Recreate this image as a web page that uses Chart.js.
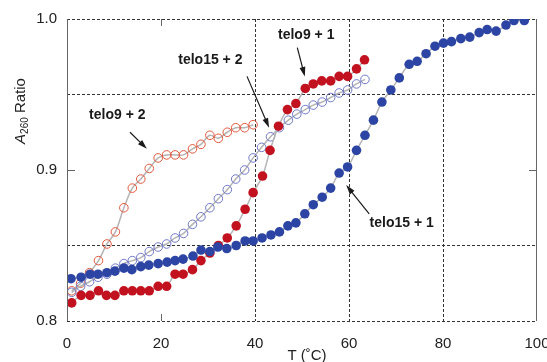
<!DOCTYPE html>
<html>
<head>
<meta charset="utf-8">
<script src="https://cdn.jsdelivr.net/npm/chart.js@4"></script>
<style>
  html, body { margin: 0; padding: 0; background: #fff; }
  #wrap { width: 547px; height: 362px; }
</style>
</head>
<body>
<div id="wrap"><canvas id="meltChart" width="547" height="362"></canvas></div>
<script>
// telo15 + 1 (filled blue)
const tempT15p1 = [0.85, 3, 4.9, 6.6, 8.5, 10.2, 12.1, 13.8, 15.7, 17.4, 19.4, 21.3, 23, 24.7, 26.8, 28.5, 30.4, 32.1, 34, 36,
    37.9, 39.6, 41.5, 43.4, 45.2, 47, 48.7, 50.6, 52.4, 54.3, 56.1, 57.9, 59.7, 61.6, 63.4, 65.2, 67, 68.9, 70.7, 72.8,
    74.5, 76.4, 78.3, 80.1, 81.8, 83.8, 85.7, 87.7, 89.4, 91.3, 93.4, 95.1, 97.3];
const ratioT15p1 = [0.828, 0.829, 0.831, 0.831, 0.832, 0.833, 0.835, 0.834, 0.836, 0.837, 0.838, 0.839, 0.840, 0.841, 0.843, 0.847, 0.846, 0.849, 0.848, 0.850,
    0.853, 0.853, 0.855, 0.857, 0.859, 0.863, 0.865, 0.871, 0.877, 0.882, 0.888, 0.898, 0.902, 0.913, 0.923, 0.933, 0.945, 0.953, 0.961, 0.970,
    0.972, 0.977, 0.982, 0.984, 0.985, 0.987, 0.988, 0.991, 0.993, 0.992, 0.996, 0.999, 0.999];

// telo9 + 1 (filled red)
const tempT9p1 = [1.0, 3, 4.9, 6.7, 8.4, 10.2, 12.1, 13.9, 15.7, 17.5, 19.4, 21.2, 23, 24.7, 26.7, 28.5, 30.4, 32.2, 34.1, 36,
    37.9, 39.6, 41.6, 43.2, 45.0, 46.9, 48.7, 50.7, 52.4, 54.2, 56.1, 57.9, 59.7, 61.6, 63.3];
const ratioT9p1 = [0.812, 0.817, 0.817, 0.820, 0.817, 0.817, 0.820, 0.820, 0.820, 0.820, 0.823, 0.823, 0.831, 0.831, 0.834, 0.840, 0.845, 0.850, 0.855, 0.863,
    0.874, 0.885, 0.896, 0.913, 0.929, 0.940, 0.944, 0.954, 0.957, 0.959, 0.959, 0.962, 0.962, 0.967, 0.973];

// telo15 + 2 (open blue)
const tempT15p2 = [1.0, 2.9, 4.8, 6.6, 8.5, 10.3, 12.1, 13.9, 15.7, 17.5, 19.4, 21.2, 23.0, 24.8, 26.7, 28.5, 30.4, 32.2, 34.1, 35.9,
    37.8, 39.6, 41.4, 43.3, 45.2, 47.1, 48.9, 50.7, 52.4, 54.3, 56.1, 57.9, 59.7, 61.6, 63.4];
const ratioT15p2 = [0.819, 0.823, 0.826, 0.829, 0.831, 0.835, 0.838, 0.840, 0.842, 0.846, 0.849, 0.851, 0.855, 0.858, 0.864, 0.869, 0.875, 0.881, 0.887, 0.894,
    0.900, 0.908, 0.915, 0.922, 0.928, 0.933, 0.937, 0.940, 0.943, 0.945, 0.948, 0.951, 0.953, 0.957, 0.960];

// telo9 + 2 (open orange)
const tempT9p2 = [1.0, 2.9, 4.8, 6.7, 8.5, 10.3, 12.1, 13.9, 15.7, 17.5, 19.4, 21.2, 23.0, 24.8, 26.7, 28.5, 30.4, 32.2, 34.1, 35.9,
    37.8, 39.6];
const ratioT9p2 = [0.820, 0.825, 0.832, 0.840, 0.851, 0.859, 0.875, 0.888, 0.894, 0.901, 0.908, 0.910, 0.910, 0.910, 0.914, 0.917, 0.923, 0.921, 0.925, 0.928,
    0.928, 0.930];

const xTicks = [0, 20, 40, 60, 80, 100];
const yTicks = [0.8, 0.9, 1.0];

// labels with arrows: text position, arrow start, arrow tip (data units)
const labels = [
    { text: 'telo9 + 2', at: [10.7, 0.936], from: [13.4, 0.925], to: [17.0, 0.914] },
    { text: 'telo15 + 2', at: [30.5, 0.973], from: [38.3, 0.962], to: [43.0, 0.928] },
    { text: 'telo9 + 1', at: [50.9, 0.989], from: [49.0, 0.981], to: [50.6, 0.962] },
    { text: 'telo15 + 1', at: [71.2, 0.865], from: [64.3, 0.871], to: [59.4, 0.890] }
];

function toPoints(xs, ys) {
    return xs.map((x, i) => ({ x: x, y: ys[i] }));
}

function series(data, color, filled, radius) {
    return {
        data: data,
        borderColor: '#b4b4b4',
        borderWidth: 1.5,
        tension: 0.35,
        pointRadius: radius,
        pointBackgroundColor: filled ? color : 'rgba(255,255,255,0)',
        pointBorderColor: color,
        pointBorderWidth: filled ? 0 : 1,
        fill: false
    };
}

const framePlugin = {
    id: 'frame',
    afterDraw(chart) {
        const ctx = chart.ctx;
        const xs = chart.scales.x;
        const ys = chart.scales.y;
        const a = chart.chartArea;
        ctx.save();
        // solid side borders
        ctx.strokeStyle = '#666';
        ctx.lineWidth = 1;
        ctx.beginPath();
        ctx.moveTo(a.left + 0.5, a.top);
        ctx.lineTo(a.left + 0.5, a.bottom);
        ctx.moveTo(a.right - 0.5, a.top);
        ctx.lineTo(a.right - 0.5, a.bottom);
        // inner ticks
        const px20 = Math.round(xs.getPixelForValue(20)) + 0.5;
        ctx.moveTo(px20, a.bottom);
        ctx.lineTo(px20, a.bottom - 7);
        ctx.moveTo(px20, a.top);
        ctx.lineTo(px20, a.top + 7);
        const py9 = Math.round(ys.getPixelForValue(0.9)) + 0.5;
        ctx.moveTo(a.left, py9);
        ctx.lineTo(a.left + 8, py9);
        ctx.moveTo(a.right, py9);
        ctx.lineTo(a.right - 8, py9);
        ctx.stroke();

        // axis titles
        ctx.fillStyle = '#222';
        ctx.font = '15px "Liberation Sans", Arial, sans-serif';
        ctx.textAlign = 'center';
        ctx.textBaseline = 'middle';
        ctx.fillText('T (\u02daC)', (a.left + a.right) / 2 + 5, 356);

        ctx.translate(21, 111);
        ctx.rotate(-Math.PI / 2);
        ctx.textAlign = 'left';
        ctx.font = 'italic 15px "Liberation Sans", Arial, sans-serif';
        const wA = ctx.measureText('A').width;
        ctx.font = '10px "Liberation Sans", Arial, sans-serif';
        const wSub = ctx.measureText('260').width;
        ctx.font = '15px "Liberation Sans", Arial, sans-serif';
        const wR = ctx.measureText(' Ratio').width;
        let cx = -(wA + wSub + wR) / 2;
        ctx.font = 'italic 15px "Liberation Sans", Arial, sans-serif';
        ctx.fillText('A', cx, 0);
        cx += wA;
        ctx.font = '10px "Liberation Sans", Arial, sans-serif';
        ctx.fillText('260', cx, 4);
        cx += wSub;
        ctx.font = '15px "Liberation Sans", Arial, sans-serif';
        ctx.fillText(' Ratio', cx, 0);
        ctx.restore();

        // labels and arrows
        ctx.save();
        ctx.font = 'bold 14px "Liberation Sans", Arial, sans-serif';
        ctx.fillStyle = '#1a1a1a';
        ctx.strokeStyle = '#1a1a1a';
        ctx.textAlign = 'center';
        ctx.textBaseline = 'middle';
        labels.forEach(l => {
            ctx.fillText(l.text, xs.getPixelForValue(l.at[0]), ys.getPixelForValue(l.at[1]));
            const x1 = xs.getPixelForValue(l.from[0]), y1 = ys.getPixelForValue(l.from[1]);
            const x2 = xs.getPixelForValue(l.to[0]), y2 = ys.getPixelForValue(l.to[1]);
            const ang = Math.atan2(y2 - y1, x2 - x1);
            ctx.lineWidth = 1.2;
            ctx.beginPath();
            ctx.moveTo(x1, y1);
            ctx.lineTo(x2 - 6 * Math.cos(ang), y2 - 6 * Math.sin(ang));
            ctx.stroke();
            ctx.beginPath();
            ctx.moveTo(x2, y2);
            ctx.lineTo(x2 - 10 * Math.cos(ang - 0.3), y2 - 10 * Math.sin(ang - 0.3));
            ctx.lineTo(x2 - 10 * Math.cos(ang + 0.3), y2 - 10 * Math.sin(ang + 0.3));
            ctx.closePath();
            ctx.fill();
        });
        ctx.restore();
    }
};

const ctx = document.getElementById('meltChart').getContext('2d');

new Chart(ctx, {
    type: 'line',
    data: {
        datasets: [
            series(toPoints(tempT15p1, ratioT15p1), '#2c44a3', true, 4.8),
            series(toPoints(tempT9p1, ratioT9p1), '#c3121f', true, 4.8),
            series(toPoints(tempT15p2, ratioT15p2), '#6f78c9', false, 4.3),
            series(toPoints(tempT9p2, ratioT9p2), '#e2573b', false, 4.3)
        ]
    },
    options: {
        responsive: false,
        animation: false,
        layout: { padding: { left: 0, right: 10, top: 19, bottom: 0 } },
        plugins: {
            legend: { display: false },
            tooltip: { enabled: false }
        },
        scales: {
            x: {
                type: 'linear',
                min: 0,
                max: 100,
                afterFit(scale) {
                    scale.height = 41;
                    scale.paddingLeft = 0;
                    scale.paddingRight = 0;
                },
                afterBuildTicks(scale) { scale.ticks = xTicks.map(v => ({ value: v })); },
                ticks: {
                    padding: 14,
                    color: '#222',
                    font: { size: 15, family: '"Liberation Sans", Arial, sans-serif' },
                    maxRotation: 0
                },
                grid: {
                    drawTicks: false,
                    lineWidth: 1,
                    color: c => (c.tick && [40, 60, 80].includes(c.tick.value)) ? '#333' : 'rgba(0,0,0,0)'
                },
                border: { display: false, dash: [3, 2] }
            },
            y: {
                min: 0.8,
                max: 1.0,
                afterFit(scale) {
                    scale.width = 67;
                    scale.paddingTop = 0;
                    scale.paddingBottom = 0;
                },
                afterBuildTicks(scale) { scale.ticks = [0.8, 0.85, 0.9, 0.95, 1.0].map(v => ({ value: v })); },
                ticks: {
                    padding: 10,
                    color: '#222',
                    font: { size: 15, family: '"Liberation Sans", Arial, sans-serif' },
                    callback: v => yTicks.some(t => Math.abs(t - v) < 1e-6) ? v.toFixed(1) : ''
                },
                grid: {
                    drawTicks: false,
                    lineWidth: 1,
                    color: c => (c.tick && Math.abs(c.tick.value - 0.9) < 1e-6) ? 'rgba(0,0,0,0)' : '#333'
                },
                border: { display: false, dash: [3, 2] }
            }
        }
    },
    plugins: [framePlugin]
});
</script>
</body>
</html>
